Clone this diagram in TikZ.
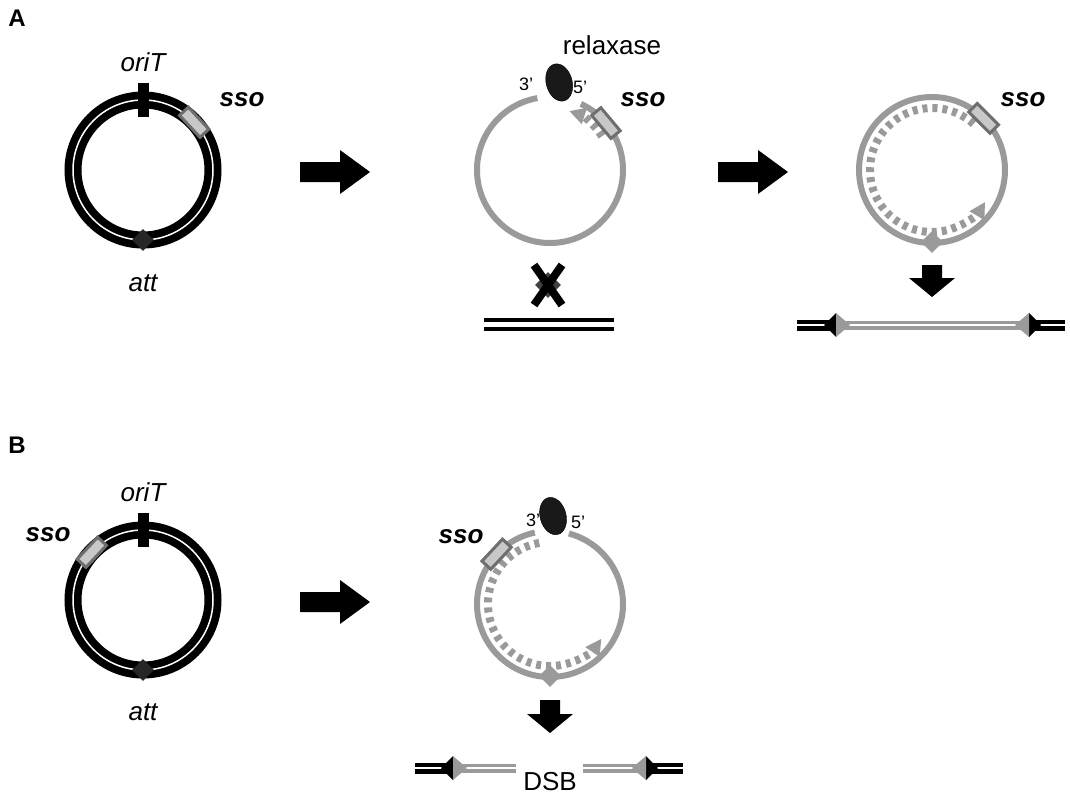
\documentclass[tikz,border=0pt]{standalone}
\usepackage{fontspec}
\setmainfont{Liberation Sans}
\usetikzlibrary{shapes.geometric,arrows.meta}
\definecolor{ring}{HTML}{9A9A9A}
\definecolor{ssofill}{HTML}{C8C8C8}
\definecolor{ssoedge}{HTML}{6E6E6E}
\begin{document}
\begin{tikzpicture}[x=1pt,y=-1pt,
  lab/.style={font=\fontsize{26}{28}\selectfont\itshape},
  ssolab/.style={font=\fontsize{26}{28}\selectfont\bfseries\itshape},
  prime/.style={font=\fontsize{18}{20}\selectfont},
  panel/.style={font=\fontsize{24}{26}\selectfont\bfseries},
  dsring/.style={line width=17pt,black},
  dsgap/.style={line width=1.5pt,white},
  ssring/.style={line width=6pt,ring},
  newdna/.style={line width=8pt,ring,dash pattern=on 5pt off 5pt,-{Triangle[length=16pt,width=16pt,fill=ring]}},
  ssobox/.style={fill=ssofill,draw=ssoedge,line width=3pt},
  att/.style={diamond,fill=#1,inner sep=0pt,minimum size=22pt},
  relax/.style={ellipse,fill=black!90,draw=black,inner sep=0pt,minimum width=26pt,minimum height=38pt,rotate=15},
  block/.style={fill=black}]
\useasboundingbox (0,0) rectangle (1070,800);
\fill[white] (0,0) rectangle (1070,800);

\node[panel] (pA) at (17,18) {A};
\node[panel] (pB) at (17,445) {B};

% ---------- A left
\begin{scope}[shift={(143,170)},yscale=-1]
  \draw[dsring] (0,0) circle (70);
  \draw[dsgap] (0,0) circle (70);
  \fill[black] (-5.5,53) rectangle (5.5,87);
  \draw[ssobox,rotate=-43] (64,-15) rectangle (76,15);
  \node[att=black!85] (attA1) at (-90:70) {};
\end{scope}
\node[lab] (oriA) at (143,62) {oriT};
\node[ssolab] (ssoA1) at (242,100) {sso};
\node[lab] (attAt) at (143,283) {att};

% arrows
\fill[block] (300,162) -- (340,162) -- (340,150) -- (370,172) -- (340,194) -- (340,182) -- (300,182) -- cycle;
\fill[block] (718,162) -- (758,162) -- (758,150) -- (788,172) -- (758,194) -- (758,182) -- (718,182) -- cycle;
\fill[block] (300,592) -- (340,592) -- (340,580) -- (370,602) -- (340,624) -- (340,612) -- (300,612) -- cycle;

% ---------- A middle
\begin{scope}[shift={(550,170)},yscale=-1]
  \draw[ssring] (100:73) arc[start angle=100,end angle=425,radius=73];
  \draw[newdna] (33:62) arc[start angle=33,end angle=72,radius=62];
  \draw[ssobox,rotate=-40] (67,-15) rectangle (79,15);
  \node[relax] (relA) at (84:88) {};
\end{scope}
\node[font=\fontsize{26}{28}\selectfont] (relT) at (612,45) {relaxase};
\node[prime] (p3A) at (526,84) {3'};
\node[prime] (p5A) at (580,87) {5'};
\node[ssolab] (ssoA2) at (643,100) {sso};
% blocked integration
\node[att=black!75,minimum size=26pt] (xd) at (548,285) {};
\draw[line width=8pt,black] (534,265) -- (562,305);
\draw[line width=8pt,black] (562,265) -- (534,305);
\draw[line width=3.5pt] (484,320) -- (614,320);
\draw[line width=3.5pt] (484,329) -- (614,329);

% ---------- A right
\begin{scope}[shift={(932,170)},yscale=-1]
  \draw[ssring] (0,0) circle (73);
  \draw[newdna] (48:62) arc[start angle=48,end angle=329,radius=62];
  \draw[ssobox,rotate=-45] (67,-15) rectangle (79,15);
  \node[att=ring] (attA3) at (-90:72) {};
\end{scope}
\node[ssolab] (ssoA3) at (1023,100) {sso};
\fill[block] (922,265) -- (942,265) -- (942,278) -- (955,278) -- (932,297) -- (909,278) -- (922,278) -- cycle;
% integrated product
\draw[line width=11pt,black] (797,325) -- (835,325);
\draw[line width=11pt,black] (1030,325) -- (1065,325);
\draw[line width=2.5pt,white] (797,325) -- (1065,325);
\draw[line width=9pt,ring] (835,325) -- (1030,325);
\draw[line width=2pt,white] (835,325) -- (1030,325);
\fill[black] (824,325) -- (836,313) -- (836,337) -- cycle;
\fill[ring] (836,313) -- (850,325) -- (836,337) -- cycle;
\fill[black] (1041,325) -- (1029,313) -- (1029,337) -- cycle;
\fill[ring] (1029,313) -- (1015,325) -- (1029,337) -- cycle;

% ---------- B left
\begin{scope}[shift={(143,600)},yscale=-1]
  \draw[dsring] (0,0) circle (70);
  \draw[dsgap] (0,0) circle (70);
  \fill[black] (-5.5,53) rectangle (5.5,87);
  \draw[ssobox,rotate=-137] (64,-15) rectangle (76,15);
  \node[att=black!85] (attB1) at (-90:70) {};
\end{scope}
\node[lab] (oriB) at (143,492) {oriT};
\node[ssolab] (ssoB1) at (48,535) {sso};
\node[lab] (attBt) at (143,712) {att};

% ---------- B middle
\begin{scope}[shift={(550,604)},yscale=-1]
  \draw[ssring] (102:73) arc[start angle=102,end angle=435,radius=73];
  \draw[newdna] (100:62) arc[start angle=100,end angle=326,radius=62];
  \draw[ssobox,rotate=-137] (67,-15) rectangle (79,15);
  \node[att=ring] (attB2) at (-90:72) {};
  \node[relax] (relB) at (88:88) {};
\end{scope}
\node[prime] (p3B) at (533,520) {3'};
\node[prime] (p5B) at (578,522) {5'};
\node[ssolab] (ssoB2) at (461,537) {sso};
\fill[block] (540,700) -- (560,700) -- (560,714) -- (573,714) -- (550,733) -- (527,714) -- (540,714) -- cycle;
% DSB products
\draw[line width=11pt,black] (415,768) -- (452,768);
\draw[line width=2.5pt,white] (415,768) -- (452,768);
\draw[line width=9pt,ring] (452,768) -- (516,768);
\draw[line width=2pt,white] (452,768) -- (516,768);
\fill[black] (441,768) -- (453,756) -- (453,780) -- cycle;
\fill[ring] (453,756) -- (467,768) -- (453,780) -- cycle;
\draw[line width=11pt,black] (646,768) -- (683,768);
\draw[line width=2.5pt,white] (646,768) -- (683,768);
\draw[line width=9pt,ring] (583,768) -- (646,768);
\draw[line width=2pt,white] (583,768) -- (646,768);
\fill[black] (658,768) -- (646,756) -- (646,780) -- cycle;
\fill[ring] (646,756) -- (632,768) -- (646,780) -- cycle;
\node[font=\fontsize{26}{28}\selectfont] (dsb) at (550,782) {DSB};
\end{tikzpicture}
\end{document}
